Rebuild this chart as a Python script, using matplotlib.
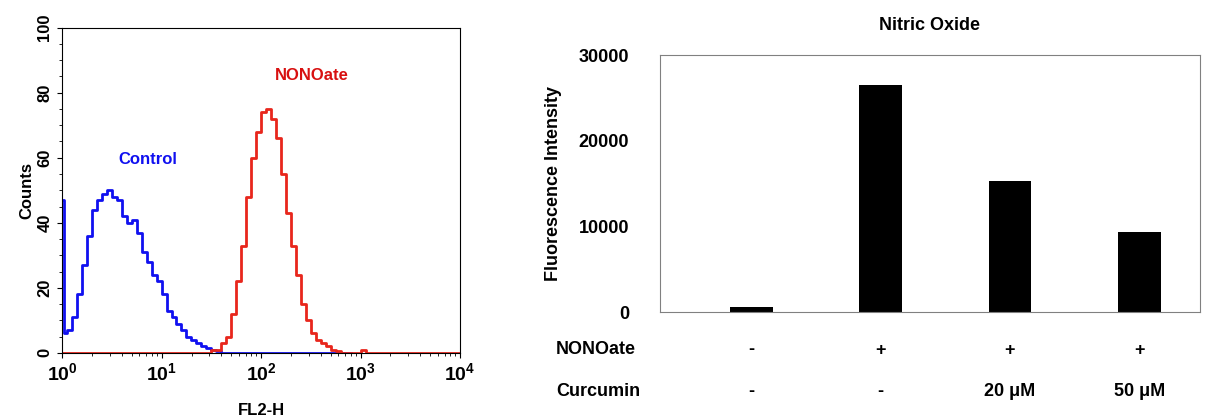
import numpy as np
import matplotlib
matplotlib.use("Agg")
import matplotlib.pyplot as plt
from matplotlib.transforms import blended_transform_factory

plt.rcParams['font.family'] = ['Liberation Sans', 'DejaVu Sans']
plt.rcParams['font.weight'] = 'bold'

# Histogram data (log10 FL2-H bin edges start, counts)
control_logx = [0.0, 0.02, 0.05, 0.1, 0.15, 0.2, 0.25, 0.3, 0.35, 0.4, 0.45, 0.5, 0.55, 0.6, 0.65,
                0.7, 0.75, 0.8, 0.85, 0.9, 0.95, 1.0, 1.05, 1.1, 1.15, 1.2, 1.25, 1.3, 1.35, 1.4,
                1.45, 1.5, 1.55, 1.6, 2.9]
control_counts = [47, 6, 7, 11, 18, 27, 36, 44, 47, 49, 50, 48, 47, 42, 40,
                  41, 37, 31, 28, 24, 22, 18, 13, 11, 9, 7, 5, 4, 3, 2,
                  1.5, 1, 0.5, 0, 0]
nono_logx = [0.0, 1.5, 1.55, 1.6, 1.65, 1.7, 1.75, 1.8, 1.85, 1.9, 1.95, 2.0, 2.05, 2.1, 2.15,
             2.2, 2.25, 2.3, 2.35, 2.4, 2.45, 2.5, 2.55, 2.6, 2.65, 2.7, 2.75, 2.8, 2.85, 3.0,
             3.05, 4.0]
nono_counts = [0, 1, 1, 3, 5, 12, 22, 33, 48, 60, 68, 74, 75, 72, 66,
               55, 43, 33, 24, 15, 10, 6, 4, 3, 2, 1, 0.5, 0, 0, 1,
               0, 0]

# Bar data
bar_values = [600, 26500, 15300, 9300]
nonoate_row = ['-', '+', '+', '+']
curcumin_row = ['-', '-', '20 \u03bcM', '50 \u03bcM']

fig = plt.figure(figsize=(12.17, 4.2), dpi=100)

ax1 = fig.add_axes([0.051, 0.160, 0.327, 0.774])
ax1.step(10 ** np.array(control_logx), control_counts, where='post', color='#1010f0', lw=2)
ax1.step(10 ** np.array(nono_logx), nono_counts, where='post', color='#e8261c', lw=2)
ax1.set_xscale('log')
ax1.set_xlim(1, 1e4)
ax1.set_ylim(0, 100)
ax1.set_yticks(range(0, 101, 20))
ax1.set_yticks(range(0, 101, 5), minor=True)
ax1.tick_params(axis='y', labelrotation=90, labelsize=12)
for l in ax1.get_yticklabels():
    l.set_va('center')
ax1.tick_params(axis='x', labelsize=14)
ax1.tick_params(direction='out', which='both')
ax1.set_ylabel('Counts', fontsize=12, fontweight='bold', labelpad=2)
ax1.set_xlabel('FL2-H', fontsize=12, fontweight='bold')
ax1.xaxis.set_label_coords(0.5, -0.155)
ax1.text(3.7, 58, 'Control', color='#1010f0', fontsize=12, fontweight='bold')
ax1.text(138, 84, 'NONOate', color='#d81010', fontsize=12, fontweight='bold')

ax2 = fig.add_axes([0.542, 0.257, 0.444, 0.612])
x = np.arange(len(bar_values))
ax2.bar(x, bar_values, width=0.33, color='black')
ax2.set_xlim(-0.71, 3.47)
ax2.set_ylim(0, 30000)
ax2.set_yticks([0, 10000, 20000, 30000])
ax2.set_xticks([])
ax2.tick_params(axis='y', length=0, labelsize=13, pad=22)
for s in ax2.spines.values():
    s.set_color('#808080')
ax2.set_ylabel('Fluorescence Intensity', fontsize=13, fontweight='bold', labelpad=12)
ax2.set_title('Nitric Oxide', fontsize=13, fontweight='bold', pad=18)
tr = blended_transform_factory(ax2.transData, fig.transFigure)
for i in x:
    ax2.text(i, 1 - 350 / 420, nonoate_row[i], transform=tr, ha='center', va='center', fontsize=13, fontweight='bold')
    ax2.text(i, 1 - 391 / 420, curcumin_row[i], transform=tr, ha='center', va='center', fontsize=13, fontweight='bold')
fig.text(556 / 1217, 1 - 350 / 420, 'NONOate', ha='left', va='center', fontsize=13, fontweight='bold')
fig.text(556 / 1217, 1 - 391 / 420, 'Curcumin', ha='left', va='center', fontsize=13, fontweight='bold')

fig.savefig('out.png', dpi=100)
